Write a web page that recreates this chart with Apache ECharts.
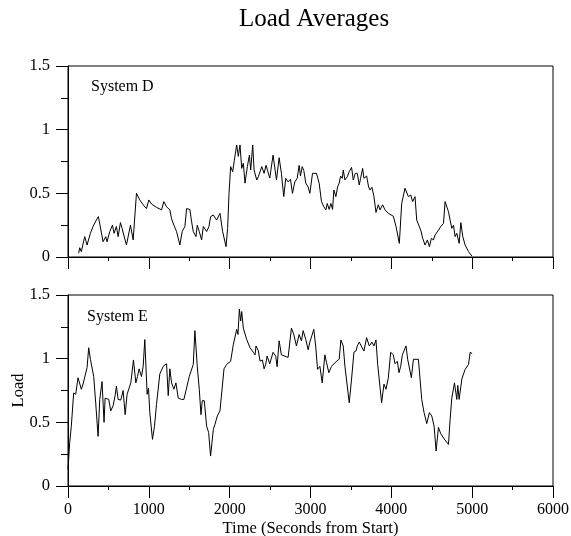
<!DOCTYPE html>
<html>
<head>
<meta charset="utf-8">
<script src="https://cdn.jsdelivr.net/npm/echarts@6.0.0/dist/echarts.min.js"></script>
<style>
  html, body { margin: 0; padding: 0; background: #fff; }
  #chart { width: 571px; height: 536px; }
</style>
</head>
<body>
<div id="chart"></div>
<script>
// System D samples (seconds, load)
const timeD = [132, 145, 165, 207, 236, 277, 310, 351, 376, 434, 467, 483, 517, 550, 570, 599, 620, 649, 669, 723,
  773, 806, 847, 888, 930, 971, 1000, 1033, 1095, 1157, 1186, 1219, 1260, 1281, 1310, 1343, 1384, 1413, 1446, 1467,
  1508, 1529, 1550, 1583, 1599, 1624, 1653, 1674, 1694, 1715, 1744, 1764, 1798, 1839, 1880, 1913, 1955, 1975, 1992, 2012,
  2037, 2058, 2087, 2107, 2128, 2149, 2169, 2190, 2219, 2244, 2260, 2285, 2302, 2335, 2355, 2376, 2397, 2426, 2450, 2496,
  2537, 2579, 2612, 2640, 2669, 2694, 2723, 2752, 2777, 2806, 2835, 2860, 2876, 2897, 2917, 2942, 2971, 2992, 3025, 3074,
  3107, 3136, 3165, 3190, 3207, 3231, 3252, 3273, 3289, 3314, 3335, 3355, 3372, 3393, 3405, 3426, 3455, 3479, 3508, 3529,
  3554, 3579, 3603, 3620, 3645, 3661, 3694, 3719, 3736, 3760, 3785, 3810, 3839, 3860, 3893, 3921, 3963, 4025, 4058, 4099,
  4128, 4169, 4211, 4240, 4264, 4293, 4314, 4335, 4364, 4388, 4417, 4446, 4471, 4496, 4521, 4541, 4562, 4583, 4612, 4645,
  4665, 4707, 4727, 4748, 4769, 4789, 4810, 4839, 4860, 4884, 4913, 4955, 4996];
const loadD = [0.03, 0.073, 0.042, 0.16, 0.094, 0.186, 0.24, 0.29, 0.317, 0.12, 0.16, 0.12, 0.2, 0.25, 0.186, 0.24, 0.16, 0.27, 0.225, 0.094,
  0.25, 0.134, 0.5, 0.448, 0.41, 0.38, 0.448, 0.416, 0.39, 0.37, 0.435, 0.395, 0.37, 0.30, 0.25, 0.2, 0.094, 0.2, 0.24, 0.38,
  0.374, 0.277, 0.2, 0.16, 0.25, 0.2, 0.134, 0.24, 0.25, 0.2, 0.24, 0.317, 0.33, 0.29, 0.343, 0.2, 0.081, 0.225, 0.5, 0.71,
  0.67, 0.76, 0.88, 0.79, 0.88, 0.696, 0.736, 0.58, 0.71, 0.80, 0.683, 0.88, 0.683, 0.605, 0.63, 0.618, 0.71, 0.657, 0.72, 0.62,
  0.80, 0.605, 0.78, 0.657, 0.474, 0.618, 0.59, 0.61, 0.50, 0.59, 0.618, 0.72, 0.636, 0.71, 0.68, 0.58, 0.55, 0.50, 0.657, 0.657,
  0.58, 0.435, 0.395, 0.37, 0.42, 0.374, 0.42, 0.374, 0.526, 0.474, 0.55, 0.58, 0.636, 0.618, 0.683, 0.605, 0.63, 0.67, 0.704, 0.605,
  0.657, 0.657, 0.565, 0.618, 0.696, 0.618, 0.636, 0.55, 0.526, 0.547, 0.474, 0.35, 0.41, 0.37, 0.41, 0.37, 0.343, 0.32, 0.24, 0.107,
  0.42, 0.54, 0.474, 0.487, 0.435, 0.474, 0.29, 0.30, 0.21, 0.147, 0.094, 0.134, 0.081, 0.147, 0.134, 0.173, 0.16, 0.21, 0.24, 0.264,
  0.435, 0.356, 0.29, 0.225, 0.25, 0.16, 0.186, 0.107, 0.27, 0.16, 0.094, 0.042, 0.008];

// System E samples (seconds, load)
const timeE = [0, 21, 41, 70, 95, 124, 165, 186, 236, 256, 277, 293, 318, 343, 372, 393, 421, 446, 459, 483,
  504, 529, 558, 583, 599, 620, 653, 682, 707, 731, 752, 777, 810, 839, 860, 880, 909, 930, 950, 979,
  996, 1012, 1045, 1070, 1095, 1136, 1178, 1219, 1240, 1260, 1281, 1310, 1335, 1364, 1405, 1434, 1467, 1500, 1550, 1570,
  1599, 1624, 1645, 1661, 1686, 1715, 1740, 1764, 1798, 1818, 1847, 1880, 1930, 1963, 2012, 2045, 2087, 2103, 2120, 2136,
  2149, 2169, 2211, 2252, 2293, 2314, 2326, 2355, 2376, 2405, 2426, 2446, 2463, 2496, 2537, 2570, 2587, 2612, 2640, 2723,
  2764, 2793, 2826, 2860, 2888, 2909, 2942, 2971, 2992, 3041, 3066, 3087, 3116, 3145, 3178, 3198, 3227, 3260, 3322, 3355,
  3376, 3405, 3426, 3446, 3479, 3508, 3537, 3562, 3579, 3603, 3628, 3661, 3694, 3727, 3760, 3785, 3810, 3831, 3847, 3880,
  3909, 3934, 3963, 3992, 4025, 4045, 4074, 4095, 4116, 4136, 4157, 4182, 4202, 4223, 4248, 4273, 4335, 4376, 4405, 4438,
  4471, 4500, 4529, 4554, 4583, 4612, 4653, 4707, 4727, 4748, 4781, 4810, 4822, 4839, 4872, 4913, 4955, 4975, 5000];
const loadE = [0.13, 0.34, 0.47, 0.73, 0.72, 0.85, 0.76, 0.80, 0.93, 1.086, 0.995, 1.0, 0.86, 0.65, 0.39, 0.68, 0.82, 0.50, 0.69, 0.68,
  0.68, 0.59, 0.63, 0.71, 0.785, 0.68, 0.675, 0.75, 0.56, 0.72, 0.72, 0.81, 0.99, 0.81, 0.86, 0.92, 0.86, 0.94, 1.15, 0.72,
  0.77, 0.576, 0.366, 0.47, 0.64, 0.88, 0.94, 0.96, 0.71, 0.92, 0.81, 0.76, 0.81, 0.69, 0.68, 0.68, 0.77, 0.86, 0.955, 1.22,
  0.94, 0.76, 0.56, 0.67, 0.67, 0.47, 0.42, 0.235, 0.445, 0.484, 0.55, 0.59, 0.92, 0.955, 0.98, 1.11, 1.23, 1.19, 1.39, 1.296,
  1.37, 1.24, 1.15, 1.086, 1.05, 1.03, 1.10, 1.06, 0.98, 0.99, 0.92, 0.955, 1.02, 0.96, 1.05, 1.02, 0.937, 1.14, 1.03, 1.01,
  1.24, 1.19, 1.10, 1.19, 1.14, 1.22, 1.15, 1.07, 1.13, 1.23, 1.086, 0.916, 0.94, 0.81, 1.03, 0.97, 0.89, 0.94, 0.98, 0.995,
  1.147, 1.10, 0.94, 0.93, 0.654, 0.84, 1.05, 1.06, 1.10, 1.13, 1.10, 1.06, 1.165, 1.10, 1.13, 1.10, 1.147, 0.955, 0.94, 0.654,
  0.80, 0.76, 0.85, 1.05, 1.03, 0.96, 0.98, 0.89, 0.94, 1.03, 1.03, 1.10, 0.995, 0.995, 0.85, 0.995, 0.995, 0.68, 0.576, 0.49,
  0.576, 0.55, 0.47, 0.275, 0.46, 0.41, 0.37, 0.327, 0.52, 0.69, 0.81, 0.68, 0.79, 0.68, 0.84, 0.916, 0.955, 1.05, 1.04];

const FONT = '"Liberation Serif", "Times New Roman", serif';

const chart = echarts.init(document.getElementById("chart"), null, { renderer: "canvas" });

const pairs = (xs, ys) => xs.map((x, i) => [x, ys[i]]);

const makeX = (gridIndex, showLabels) => ({
  type: "value",
  gridIndex: gridIndex,
  min: 0,
  max: 6000,
  interval: 1000,
  axisLine: { show: true, onZero: false, lineStyle: { color: "#000", width: 1 } },
  axisTick: { show: true, inside: false, length: 12, lineStyle: { color: "#000" } },
  minorTick: { show: true, splitNumber: 2, length: 4, lineStyle: { color: "#000" } },
  splitLine: { show: false },
  axisLabel: {
    show: showLabels,
    color: "#000",
    fontFamily: FONT,
    fontSize: 16,
    margin: 16,
    formatter: (v) => String(v),
  },
  name: showLabels ? "Time (Seconds from Start)" : "",
  nameLocation: "middle",
  nameGap: 34,
  nameMoveOverlap: false,
  nameTextStyle: { color: "#000", fontFamily: FONT, fontSize: 16.5 },
});

const makeY = (gridIndex, name) => ({
  type: "value",
  gridIndex: gridIndex,
  min: 0,
  max: 1.5,
  interval: 0.5,
  axisLine: { show: true, lineStyle: { color: "#000", width: 1 } },
  axisTick: { show: true, inside: false, length: 12, lineStyle: { color: "#000" } },
  minorTick: { show: true, splitNumber: 2, length: 7, lineStyle: { color: "#000" } },
  splitLine: { show: false },
  axisLabel: { color: "#000", fontFamily: FONT, fontSize: 16.5, margin: 18 },
  name: name,
  nameLocation: "middle",
  nameGap: 41,
  nameMoveOverlap: false,
  nameTextStyle: { color: "#000", fontFamily: FONT, fontSize: 16.5 },
});

const lineSeries = (idx, data) => ({
  type: "line",
  xAxisIndex: idx,
  yAxisIndex: idx,
  data: data,
  showSymbol: false,
  symbol: "none",
  lineStyle: { color: "#000", width: 1 },
});

const gridBox = (top) => ({
  left: 68,
  right: 18,
  top: top,
  height: 191,
  containLabel: false,
  outerBoundsMode: "none",
  show: true,
  borderColor: "#000",
  borderWidth: 1,
  backgroundColor: "transparent",
});

const option = {
  animation: false,
  backgroundColor: "#fff",
  title: {
    text: "Load Averages",
    left: 234,
    top: 2,
    textStyle: { color: "#000", fontFamily: FONT, fontSize: 25, fontWeight: "normal" },
  },
  grid: [gridBox(66), gridBox(295)],
  xAxis: [makeX(0, false), makeX(1, true)],
  yAxis: [makeY(0, ""), makeY(1, "Load")],
  series: [lineSeries(0, pairs(timeD, loadD)), lineSeries(1, pairs(timeE, loadE))],
  graphic: [
    { type: "text", x: 91, y: 87, style: { text: "System D", fill: "#000", font: "16px " + FONT, verticalAlign: "middle" } },
    { type: "text", x: 87, y: 317, style: { text: "System E", fill: "#000", font: "16px " + FONT, verticalAlign: "middle" } },
  ],
};

chart.setOption(option);
</script>
</body>
</html>
